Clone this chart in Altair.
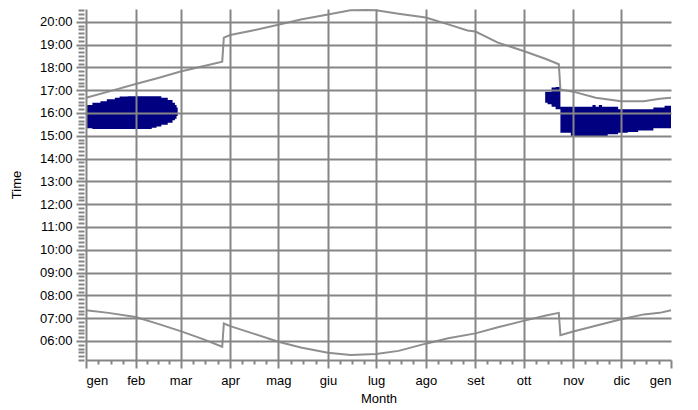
import json
import altair as alt
import pandas as pd

# ---- axis labels / ticks ----
MONTH_LABELS = ['gen', 'feb', 'mar', 'apr', 'mag', 'giu', 'lug', 'ago', 'set', 'ott', 'nov', 'dic', 'gen']
MONTH_START_DAYS = [0, 31, 59, 90, 120, 151, 181, 212, 243, 273, 304, 334, 365]
HOUR_TICKS = list(range(6, 21))

# ---- sunset line (day of year, local time) ----
sunset_day = [0, 14, 31, 45, 59, 73, 85, 86, 90, 104, 120, 134, 151, 165, 175, 181, 195, 212,
              226, 238, 243, 257, 273, 287, 295, 296, 304, 318, 334, 348, 358, 365]
sunset_time = ['16:40', '16:56', '17:16', '17:32', '17:49', '18:03', '18:15', '19:18', '19:25', '19:37',
               '19:52', '20:06', '20:19', '20:30', '20:31', '20:30', '20:21', '20:11', '19:53', '19:37',
               '19:34', '19:05', '18:43', '18:22', '18:08', '17:02', '16:56', '16:40', '16:31', '16:31',
               '16:37', '16:40']

# ---- sunrise line ----
sunrise_day = [0, 14, 31, 45, 59, 73, 85, 86, 90, 104, 120, 134, 151, 165, 181, 195, 212, 226,
               243, 257, 273, 287, 295, 296, 304, 318, 334, 348, 358, 365]
sunrise_time = ['07:21', '07:14', '07:03', '06:45', '06:26', '06:05', '05:45', '06:46', '06:39', '06:20',
                '05:58', '05:43', '05:29', '05:23', '05:26', '05:34', '05:53', '06:07', '06:20', '06:36',
                '06:53', '07:07', '07:14', '06:15', '06:25', '06:40', '06:57', '07:10', '07:14', '07:21']

# ---- shaded period, winter (Jan-Feb) ----
shade1_day = [0, 4, 9, 13, 18, 21, 26, 41, 44, 47, 51, 54, 55.5, 56.5, 57.2]
shade1_from = ['15:20', '15:18', '15:18', '15:18', '15:18', '15:18', '15:18', '15:21', '15:24', '15:29',
               '15:34', '15:41', '15:45', '15:52', '15:52']
shade1_to = ['16:21', '16:27', '16:31', '16:36', '16:40', '16:43', '16:44', '16:44', '16:44', '16:40',
             '16:34', '16:27', '16:21', '16:14', '16:14']

# ---- shaded period, autumn (Oct-Dec) ----
shade2_day = [286.5, 288, 290.5, 293, 296, 302.5, 316, 318, 320, 322, 325.5, 332, 338, 344.5, 354, 361, 365]
shade2_from = ['16:27', '16:23', '16:16', '16:10', '15:08', '14:58', '14:58', '14:58', '14:58', '14:58',
               '15:04', '15:08', '15:10', '15:14', '15:20', '15:20', '15:20']
shade2_to = ['16:56', '16:56', '17:07', '17:08', '16:16', '16:16', '16:21', '16:16', '16:21', '16:16',
             '16:16', '16:10', '16:10', '16:10', '16:14', '16:19', '16:19']


def hm(s):
    h, m = s.split(':')
    return int(h) + int(m) / 60.0


lines = pd.concat([
    pd.DataFrame({'day': sunrise_day, 'h': [hm(t) for t in sunrise_time], 'series': 'sunrise'}),
    pd.DataFrame({'day': sunset_day, 'h': [hm(t) for t in sunset_time], 'series': 'sunset'}),
])
shades = pd.concat([
    pd.DataFrame({'day': shade1_day, 'lo': [hm(t) for t in shade1_from], 'hi': [hm(t) for t in shade1_to], 'part': 'a'}),
    pd.DataFrame({'day': shade2_day, 'lo': [hm(t) for t in shade2_from], 'hi': [hm(t) for t in shade2_to], 'part': 'b'}),
])

minor_x = []
for i in range(12):
    a, b = MONTH_START_DAYS[i], MONTH_START_DAYS[i + 1]
    for k in (1, 2, 3):
        minor_x.append(a + (b - a) * k / 4)
minor_y = [h + m / 6 for h in range(5, 21) for m in range(1, 6) if 5 + 1 / 6 - 1e-6 <= h + m / 6 <= 20.56]

GRID = '#858585'
FONT = 'Liberation Sans'
Y_DOMAIN = [5 + 10 / 60, 20.557]

xscale = alt.Scale(domain=[0, 365], nice=False, zero=False)
yscale = alt.Scale(domain=Y_DOMAIN, nice=False, zero=False)

month_expr = json.dumps(MONTH_LABELS) + '[round(datum.value / 30.44)]'
hour_expr = "(datum.value < 10 ? '0' : '') + datum.value + ':00'"

x_major = alt.Axis(values=MONTH_START_DAYS, labelExpr=month_expr, orient='bottom', title='Month',
                   tickSize=8, tickWidth=2, tickColor=GRID, grid=True, gridColor=GRID, gridWidth=2,
                   gridOpacity={"condition": {"test": "datum.value >= 365", "value": 0}, "value": 1},
                   domain=True, domainColor=GRID, domainWidth=2, labelPadding=6, titlePadding=5,
                   zindex=1)
y_major = alt.Axis(values=HOUR_TICKS, labelExpr=hour_expr, orient='left', title='Time',
                   tickSize=10, tickWidth=2, tickColor=GRID, grid=True, gridColor=GRID, gridWidth=2,
                   domain=False, labelPadding=4, titlePadding=16, zindex=1)
x_minor = alt.Axis(values=minor_x, orient='bottom', title=None, labels=False, tickSize=4, tickWidth=2,
                   tickColor=GRID, grid=False, domain=False, zindex=1)
y_minor = alt.Axis(values=minor_y, orient='left', title=None, labels=False, tickSize=6, tickWidth=2,
                   tickColor=GRID, grid=False, domain=False, offset=2, zindex=1)

area = alt.Chart(shades).mark_area(color='#000080', interpolate='step-after', opacity=1).encode(
    x=alt.X('day:Q', scale=xscale, axis=x_major),
    y=alt.Y('lo:Q', scale=yscale, axis=y_major),
    y2='hi:Q',
    detail='part:N',
)

line = alt.Chart(lines).mark_line(color='#8f8f8f', strokeWidth=2).encode(
    x=alt.X('day:Q', scale=xscale, axis=x_minor),
    y=alt.Y('h:Q', scale=yscale, axis=y_minor),
    detail='series:N',
)

chart = alt.layer(area, line).resolve_axis(x='independent', y='independent').properties(
    width=585, height=351,
    padding={'left': 2, 'top': -3, 'right': 5, 'bottom': 0},
).configure_view(stroke=None).configure_axis(
    labelFont=FONT, labelFontSize=13, labelColor='#000',
    titleFont=FONT, titleFontSize=13, titleFontWeight='normal', titleColor='#000',
)

chart.save('out.html', embed_options={'renderer': 'svg', 'actions': False})
